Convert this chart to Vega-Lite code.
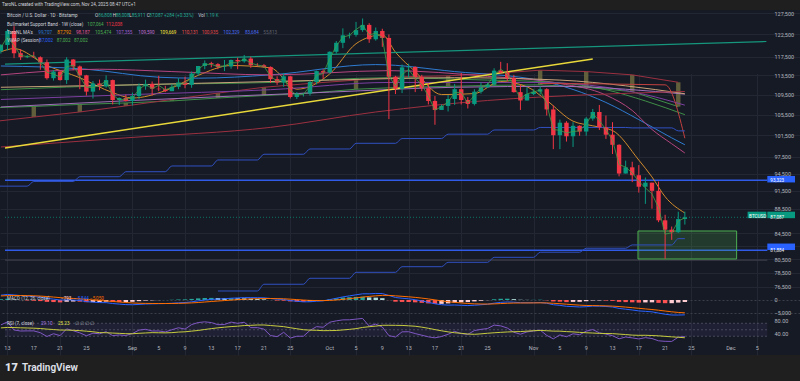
{
"$schema":"https://vega.github.io/schema/vega-lite/v6.json",
"width":800,"height":345,
"autosize":{"type":"none"},
"padding":{"left":0,"top":10,"right":0,"bottom":26},
"background":"#1f1f1f",
"config":{
 "view":{"fill":"#161a25","stroke":null},
 "axis":{"domain":false,"ticks":false,"labelFont":"Roboto","labelFontSize":5.5,"labelColor":"#b2b5be","labelOverlap":false,"labelFlush":false,"gridColor":"#232733","titleFont":"Roboto"},
 "text":{"font":"Roboto","fontSize":4.6,"align":"left","baseline":"middle"}
},
"datasets":{
"candles":[
{"d":"2025-08-12","o":118700,"h":120300,"l":118200,"c":120100,"v":119530,"m":1900,"s":1600,"hs":300,"r":65.0,"rm":55.7},
{"d":"2025-08-13","o":120100,"h":123700,"l":118900,"c":123300,"v":121970,"m":2190,"s":1720,"hs":470,"r":74.1,"rm":57.1},
{"d":"2025-08-14","o":123300,"h":124400,"l":117200,"c":118300,"v":119970,"m":1990,"s":1770,"hs":220,"r":49.3,"rm":56.7},
{"d":"2025-08-15","o":118300,"h":119200,"l":116800,"c":117400,"v":117800,"m":1750,"s":1770,"hs":-20,"r":46.1,"rm":56.0},
{"d":"2025-08-16","o":117400,"h":117900,"l":117200,"c":117500,"v":117530,"m":1540,"s":1720,"hs":-180,"r":46.5,"rm":55.4},
{"d":"2025-08-17","o":117500,"h":118600,"l":117300,"c":117400,"v":117770,"m":1360,"s":1650,"hs":-290,"r":46.5,"rm":54.8},
{"d":"2025-08-18","o":117400,"h":117600,"l":114700,"c":116300,"v":116200,"m":1110,"s":1540,"hs":-430,"r":40.9,"rm":53.8},
{"d":"2025-08-19","o":116300,"h":116900,"l":112600,"c":112900,"v":114130,"m":630,"s":1360,"hs":-730,"r":29.2,"rm":52.0},
{"d":"2025-08-20","o":112900,"h":114600,"l":112400,"c":114300,"v":113770,"m":350,"s":1160,"hs":-810,"r":37.7,"rm":50.7},
{"d":"2025-08-21","o":114300,"h":114500,"l":112400,"c":112500,"v":113130,"m":-10,"s":930,"hs":-940,"r":32.0,"rm":49.1},
{"d":"2025-08-22","o":112500,"h":117400,"l":111700,"c":116900,"v":115330,"m":60,"s":750,"hs":-690,"r":52.7,"rm":48.9},
{"d":"2025-08-23","o":116900,"h":117000,"l":114600,"c":115400,"v":115670,"m":-10,"s":600,"hs":-610,"r":47.0,"rm":48.4},
{"d":"2025-08-24","o":115400,"h":115600,"l":110600,"c":113500,"v":113230,"m":-210,"s":440,"hs":-650,"r":40.5,"rm":47.3},
{"d":"2025-08-25","o":113500,"h":113600,"l":109300,"c":110100,"v":111000,"m":-640,"s":220,"hs":-860,"r":31.5,"rm":45.6},
{"d":"2025-08-26","o":110100,"h":112300,"l":108700,"c":111800,"v":110930,"m":-830,"s":10,"hs":-840,"r":39.4,"rm":43.8},
{"d":"2025-08-27","o":111800,"h":112600,"l":110400,"c":111200,"v":111400,"m":-1020,"s":-200,"hs":-820,"r":37.6,"rm":41.2},
{"d":"2025-08-28","o":111200,"h":113500,"l":110900,"c":112500,"v":112300,"m":-1050,"s":-370,"hs":-680,"r":44.0,"rm":40.8},
{"d":"2025-08-29","o":112500,"h":112600,"l":107500,"c":108400,"v":109500,"m":-1390,"s":-570,"hs":-820,"r":31.9,"rm":39.8},
{"d":"2025-08-30","o":108400,"h":108900,"l":107400,"c":108800,"v":108370,"m":-1610,"s":-780,"hs":-830,"r":34.0,"rm":38.9},
{"d":"2025-08-31","o":108800,"h":109500,"l":108100,"c":108200,"v":108600,"m":-1810,"s":-990,"hs":-820,"r":32.3,"rm":37.9},
{"d":"2025-09-01","o":108200,"h":109900,"l":107300,"c":109200,"v":108800,"m":-1870,"s":-1160,"hs":-710,"r":38.3,"rm":37.7},
{"d":"2025-09-02","o":109200,"h":111800,"l":108600,"c":111200,"v":110530,"m":-1740,"s":-1280,"hs":-460,"r":48.9,"rm":39.1},
{"d":"2025-09-03","o":111200,"h":112600,"l":110500,"c":111700,"v":111600,"m":-1580,"s":-1340,"hs":-240,"r":51.4,"rm":40.1},
{"d":"2025-09-04","o":111700,"h":112200,"l":109300,"c":110700,"v":110730,"m":-1510,"s":-1370,"hs":-140,"r":46.2,"rm":41.1},
{"d":"2025-09-05","o":110700,"h":113400,"l":110200,"c":110600,"v":111400,"m":-1440,"s":-1390,"hs":-50,"r":46.2,"rm":40.7},
{"d":"2025-09-06","o":110600,"h":111300,"l":110000,"c":110200,"v":110500,"m":-1400,"s":-1390,"hs":-10,"r":43.3,"rm":40.4},
{"d":"2025-09-07","o":110200,"h":111600,"l":110200,"c":111100,"v":110970,"m":-1280,"s":-1370,"hs":90,"r":50.0,"rm":41.1},
{"d":"2025-09-08","o":111100,"h":112900,"l":110600,"c":112000,"v":111830,"m":-1110,"s":-1320,"hs":210,"r":56.1,"rm":42.8},
{"d":"2025-09-09","o":112000,"h":113200,"l":110800,"c":111500,"v":111830,"m":-1000,"s":-1250,"hs":250,"r":52.0,"rm":43.7},
{"d":"2025-09-10","o":111500,"h":114300,"l":110900,"c":113900,"v":113030,"m":-720,"s":-1150,"hs":430,"r":65.9,"rm":45.8},
{"d":"2025-09-11","o":113900,"h":115500,"l":113400,"c":115500,"v":114800,"m":-350,"s":-990,"hs":640,"r":72.2,"rm":47.8},
{"d":"2025-09-12","o":115500,"h":116700,"l":114800,"c":116100,"v":115870,"m":-10,"s":-790,"hs":780,"r":74.3,"rm":50.8},
{"d":"2025-09-13","o":116100,"h":116400,"l":115200,"c":115900,"v":115830,"m":230,"s":-590,"hs":820,"r":72.1,"rm":53.5},
{"d":"2025-09-14","o":115900,"h":116100,"l":114800,"c":115300,"v":115400,"m":370,"s":-400,"hs":770,"r":65.6,"rm":55.9},
{"d":"2025-09-15","o":115300,"h":116800,"l":114400,"c":115400,"v":115530,"m":490,"s":-220,"hs":710,"r":66.2,"rm":57.9},
{"d":"2025-09-16","o":115400,"h":116900,"l":114900,"c":116800,"v":116200,"m":690,"s":-40,"hs":730,"r":73.6,"rm":59.7},
{"d":"2025-09-17","o":116800,"h":117300,"l":114800,"c":116500,"v":116200,"m":810,"s":130,"hs":680,"r":69.8,"rm":61.0},
{"d":"2025-09-18","o":116500,"h":117900,"l":116200,"c":117100,"v":117070,"m":950,"s":290,"hs":660,"r":73.1,"rm":62.9},
{"d":"2025-09-19","o":117100,"h":117500,"l":115100,"c":115700,"v":116100,"m":930,"s":420,"hs":510,"r":56.5,"rm":63.6},
{"d":"2025-09-20","o":115700,"h":116100,"l":115400,"c":115650,"v":115720,"m":910,"s":520,"hs":390,"r":56.5,"rm":64.6},
{"d":"2025-09-21","o":115650,"h":115900,"l":115100,"c":115300,"v":115430,"m":850,"s":580,"hs":270,"r":52.0,"rm":64.7},
{"d":"2025-09-22","o":115300,"h":115400,"l":111900,"c":112700,"v":113330,"m":590,"s":580,"hs":10,"r":32.2,"rm":63.0},
{"d":"2025-09-23","o":112700,"h":113300,"l":111500,"c":112000,"v":112270,"m":320,"s":530,"hs":-210,"r":28.7,"rm":61.3},
{"d":"2025-09-24","o":112000,"h":114000,"l":111100,"c":113300,"v":112800,"m":210,"s":470,"hs":-260,"r":42.2,"rm":59.6},
{"d":"2025-09-25","o":113300,"h":113400,"l":108700,"c":109000,"v":110370,"m":-230,"s":330,"hs":-560,"r":24.4,"rm":56.2},
{"d":"2025-09-26","o":109000,"h":110000,"l":108600,"c":109700,"v":109430,"m":-510,"s":160,"hs":-670,"r":30.0,"rm":53.1},
{"d":"2025-09-27","o":109700,"h":109800,"l":109100,"c":109750,"v":109550,"m":-730,"s":-20,"hs":-710,"r":30.0,"rm":50.1},
{"d":"2025-09-28","o":109750,"h":112400,"l":109300,"c":112100,"v":111270,"m":-700,"s":-160,"hs":-540,"r":48.0,"rm":48.8},
{"d":"2025-09-29","o":112100,"h":114500,"l":111600,"c":114400,"v":113500,"m":-480,"s":-220,"hs":-260,"r":59.6,"rm":48.3},
{"d":"2025-09-30","o":114400,"h":114800,"l":112700,"c":114100,"v":113870,"m":-330,"s":-240,"hs":-90,"r":57.6,"rm":47.2},
{"d":"2025-10-01","o":114100,"h":118700,"l":113900,"c":118600,"v":117070,"m":150,"s":-160,"hs":310,"r":73.1,"rm":47.4},
{"d":"2025-10-02","o":118600,"h":121000,"l":118200,"c":120600,"v":119930,"m":680,"s":10,"hs":670,"r":77.4,"rm":47.7},
{"d":"2025-10-03","o":120600,"h":123900,"l":119400,"c":122300,"v":121870,"m":1220,"s":250,"hs":970,"r":80.4,"rm":49.4},
{"d":"2025-10-04","o":122300,"h":122900,"l":121600,"c":122400,"v":122300,"m":1640,"s":530,"hs":1110,"r":80.6,"rm":51.2},
{"d":"2025-10-05","o":122400,"h":125400,"l":122000,"c":123500,"v":123630,"m":2040,"s":830,"hs":1210,"r":82.7,"rm":53.4},
{"d":"2025-10-06","o":123500,"h":126200,"l":123100,"c":124700,"v":124670,"m":2430,"s":1150,"hs":1280,"r":84.8,"rm":57.1},
{"d":"2025-10-07","o":124700,"h":125100,"l":120600,"c":121400,"v":122370,"m":2440,"s":1410,"hs":1030,"r":61.3,"rm":59.4},
{"d":"2025-10-08","o":121400,"h":124100,"l":121100,"c":123300,"v":122830,"m":2580,"s":1640,"hs":940,"r":67.4,"rm":61.2},
{"d":"2025-10-09","o":123300,"h":123800,"l":119700,"c":121700,"v":121730,"m":2530,"s":1820,"hs":710,"r":58.4,"rm":63.7},
{"d":"2025-10-10","o":121700,"h":122500,"l":104600,"c":113200,"v":113430,"m":1780,"s":1810,"hs":-30,"r":31.9,"rm":63.8},
{"d":"2025-10-11","o":113200,"h":113400,"l":109600,"c":110700,"v":111230,"m":980,"s":1640,"hs":-660,"r":27.6,"rm":63.6},
{"d":"2025-10-12","o":110700,"h":115800,"l":109800,"c":115200,"v":113600,"m":690,"s":1450,"hs":-760,"r":43.6,"rm":63.3},
{"d":"2025-10-13","o":115200,"h":116000,"l":113000,"c":115300,"v":114770,"m":470,"s":1260,"hs":-790,"r":43.9,"rm":62.2},
{"d":"2025-10-14","o":115300,"h":115400,"l":110000,"c":113100,"v":112830,"m":110,"s":1030,"hs":-920,"r":38.3,"rm":60.8},
{"d":"2025-10-15","o":113100,"h":113600,"l":110200,"c":110800,"v":111530,"m":-360,"s":750,"hs":-1110,"r":33.2,"rm":58.0},
{"d":"2025-10-16","o":110800,"h":111800,"l":107500,"c":108200,"v":109170,"m":-920,"s":420,"hs":-1340,"r":28.2,"rm":54.5},
{"d":"2025-10-17","o":108200,"h":109200,"l":103500,"c":106400,"v":106370,"m":-1490,"s":40,"hs":-1530,"r":25.1,"rm":50.5},
{"d":"2025-10-18","o":106400,"h":107500,"l":106400,"c":107200,"v":107030,"m":-1860,"s":-340,"hs":-1520,"r":29.1,"rm":46.8},
{"d":"2025-10-19","o":107200,"h":109400,"l":106100,"c":108600,"v":108030,"m":-2020,"s":-680,"hs":-1340,"r":36.1,"rm":43.5},
{"d":"2025-10-20","o":108600,"h":111700,"l":107400,"c":110600,"v":109900,"m":-1970,"s":-930,"hs":-1040,"r":45.0,"rm":40.7},
{"d":"2025-10-21","o":110600,"h":114000,"l":107500,"c":108400,"v":109970,"m":-2080,"s":-1160,"hs":-920,"r":38.2,"rm":39.0},
{"d":"2025-10-22","o":108400,"h":109000,"l":106700,"c":107600,"v":107770,"m":-2200,"s":-1370,"hs":-830,"r":35.9,"rm":36.8},
{"d":"2025-10-23","o":107600,"h":110600,"l":107300,"c":110100,"v":109330,"m":-2070,"s":-1510,"hs":-560,"r":47.5,"rm":36.0},
{"d":"2025-10-24","o":110100,"h":112000,"l":109700,"c":111000,"v":110900,"m":-1880,"s":-1580,"hs":-300,"r":51.2,"rm":37.4},
{"d":"2025-10-25","o":111000,"h":111900,"l":110900,"c":111600,"v":111470,"m":-1660,"s":-1600,"hs":-60,"r":53.8,"rm":39.2},
{"d":"2025-10-26","o":111600,"h":115000,"l":111300,"c":114500,"v":113600,"m":-1240,"s":-1530,"hs":290,"r":64.3,"rm":40.7},
{"d":"2025-10-27","o":114500,"h":116400,"l":113900,"c":114100,"v":114800,"m":-930,"s":-1410,"hs":480,"r":62.0,"rm":42.0},
{"d":"2025-10-28","o":114100,"h":116100,"l":112300,"c":112900,"v":113770,"m":-770,"s":-1280,"hs":510,"r":55.3,"rm":43.2},
{"d":"2025-10-29","o":112900,"h":113600,"l":109900,"c":110000,"v":111170,"m":-860,"s":-1200,"hs":340,"r":42.2,"rm":43.9},
{"d":"2025-10-30","o":110000,"h":111500,"l":106400,"c":108300,"v":108730,"m":-1060,"s":-1170,"hs":110,"r":36.3,"rm":44.4},
{"d":"2025-10-31","o":108300,"h":111000,"l":108300,"c":109600,"v":109630,"m":-1100,"s":-1160,"hs":60,"r":43.4,"rm":45.7},
{"d":"2025-11-01","o":109600,"h":110600,"l":109400,"c":110100,"v":110030,"m":-1080,"s":-1140,"hs":60,"r":46.1,"rm":47.0},
{"d":"2025-11-02","o":110100,"h":111200,"l":109500,"c":110600,"v":110430,"m":-1010,"s":-1120,"hs":110,"r":48.9,"rm":47.9},
{"d":"2025-11-03","o":110600,"h":110800,"l":105300,"c":106500,"v":107530,"m":-1270,"s":-1150,"hs":-120,"r":32.6,"rm":47.0},
{"d":"2025-11-04","o":106500,"h":107300,"l":98900,"c":101500,"v":102570,"m":-1860,"s":-1290,"hs":-570,"r":22.1,"rm":45.8},
{"d":"2025-11-05","o":101500,"h":104500,"l":98900,"c":103900,"v":102430,"m":-2110,"s":-1450,"hs":-660,"r":34.0,"rm":45.7},
{"d":"2025-11-06","o":103900,"h":104200,"l":100300,"c":101300,"v":101930,"m":-2490,"s":-1660,"hs":-830,"r":28.5,"rm":44.3},
{"d":"2025-11-07","o":101300,"h":104000,"l":99300,"c":103300,"v":102200,"m":-2600,"s":-1850,"hs":-750,"r":37.6,"rm":43.4},
{"d":"2025-11-08","o":103300,"h":103400,"l":101400,"c":102200,"v":102330,"m":-2750,"s":-2030,"hs":-720,"r":34.8,"rm":42.0},
{"d":"2025-11-09","o":102200,"h":105000,"l":101400,"c":104700,"v":103700,"m":-2630,"s":-2150,"hs":-480,"r":45.6,"rm":40.7},
{"d":"2025-11-10","o":104700,"h":106600,"l":104300,"c":106000,"v":105630,"m":-2400,"s":-2200,"hs":-200,"r":50.6,"rm":39.9},
{"d":"2025-11-11","o":106000,"h":107400,"l":102500,"c":103000,"v":104300,"m":-2440,"s":-2250,"hs":-190,"r":40.6,"rm":38.8},
{"d":"2025-11-12","o":103000,"h":105300,"l":100800,"c":101600,"v":102570,"m":-2550,"s":-2310,"hs":-240,"r":36.6,"rm":38.4},
{"d":"2025-11-13","o":101600,"h":104000,"l":98000,"c":99700,"v":100570,"m":-2760,"s":-2400,"hs":-360,"r":31.7,"rm":38.1},
{"d":"2025-11-14","o":99700,"h":99800,"l":94000,"c":94500,"v":96100,"m":-3310,"s":-2580,"hs":-730,"r":22.2,"rm":36.6},
{"d":"2025-11-15","o":94500,"h":96800,"l":94500,"c":95600,"v":95630,"m":-3620,"s":-2790,"hs":-830,"r":27.6,"rm":35.2},
{"d":"2025-11-16","o":95600,"h":96600,"l":93000,"c":94200,"v":94600,"m":-3930,"s":-3020,"hs":-910,"r":25.0,"rm":33.5},
{"d":"2025-11-17","o":94200,"h":96000,"l":91200,"c":92200,"v":93130,"m":-4290,"s":-3270,"hs":-1020,"r":21.7,"rm":32.8},
{"d":"2025-11-18","o":92200,"h":93800,"l":89300,"c":92900,"v":92000,"m":-4470,"s":-3510,"hs":-960,"r":25.7,"rm":33.0},
{"d":"2025-11-19","o":92900,"h":92900,"l":88500,"c":91500,"v":90970,"m":-4660,"s":-3740,"hs":-920,"r":23.0,"rm":32.2},
{"d":"2025-11-20","o":91500,"h":93100,"l":86300,"c":86600,"v":88670,"m":-5150,"s":-4020,"hs":-1130,"r":16.0,"rm":31.3},
{"d":"2025-11-21","o":86600,"h":87500,"l":80600,"c":85100,"v":84400,"m":-5600,"s":-4340,"hs":-1260,"r":14.4,"rm":29.7},
{"d":"2025-11-22","o":85100,"h":85600,"l":83500,"c":84700,"v":84600,"m":-5910,"s":-4650,"hs":-1260,"r":14.0,"rm":28.2},
{"d":"2025-11-23","o":84700,"h":88000,"l":84600,"c":86800,"v":86470,"m":-5920,"s":-4900,"hs":-1020,"r":27.2,"rm":26.9},
{"d":"2025-11-24","o":86808,"h":88008,"l":85911,"c":87087,"v":87002,"m":-5844,"s":-5050,"hs":-794,"r":29.1,"rm":25.3}
],
"band":[
{"d":"2025-08-10","g":106800,"r":104000},{"d":"2025-08-17","g":107100,"r":105000},{"d":"2025-08-24","g":107500,"r":106000},{"d":"2025-08-31","g":107800,"r":107200},{"d":"2025-09-07","g":108200,"r":108500},{"d":"2025-09-14","g":108800,"r":109800},{"d":"2025-09-21","g":109300,"r":111000},{"d":"2025-09-28","g":109800,"r":111800},{"d":"2025-10-05","g":110600,"r":112500},{"d":"2025-10-12","g":111000,"r":113200},{"d":"2025-10-19","g":111200,"r":113400},{"d":"2025-10-26","g":111400,"r":113900},{"d":"2025-11-02","g":111500,"r":114600},{"d":"2025-11-09","g":111000,"r":114300},{"d":"2025-11-16","g":110100,"r":113600},{"d":"2025-11-23","g":107064,"r":112038}
],
"ma":[
{"d":"2025-08-12","p":118600,"k":"ema"},{"d":"2025-08-14","p":119300,"k":"ema"},{"d":"2025-08-19","p":115600,"k":"ema"},{"d":"2025-08-24","p":113000,"k":"ema"},{"d":"2025-08-29","p":109900,"k":"ema"},{"d":"2025-09-01","p":108800,"k":"ema"},{"d":"2025-09-06","p":110300,"k":"ema"},{"d":"2025-09-11","p":113500,"k":"ema"},{"d":"2025-09-16","p":115600,"k":"ema"},{"d":"2025-09-22","p":115100,"k":"ema"},{"d":"2025-09-26","p":110600,"k":"ema"},{"d":"2025-10-01","p":113800,"k":"ema"},{"d":"2025-10-05","p":120400,"k":"ema"},{"d":"2025-10-07","p":121900,"k":"ema"},{"d":"2025-10-09","p":122400,"k":"ema"},{"d":"2025-10-11","p":118500,"k":"ema"},{"d":"2025-10-14","p":114300,"k":"ema"},{"d":"2025-10-18","p":109500,"k":"ema"},{"d":"2025-10-23","p":109700,"k":"ema"},{"d":"2025-10-27","p":112200,"k":"ema"},{"d":"2025-10-31","p":111100,"k":"ema"},{"d":"2025-11-03","p":108300,"k":"ema"},{"d":"2025-11-07","p":104200,"k":"ema"},{"d":"2025-11-10","p":103300,"k":"ema"},{"d":"2025-11-13","p":102400,"k":"ema"},{"d":"2025-11-17","p":96900,"k":"ema"},{"d":"2025-11-19","p":93900,"k":"ema"},{"d":"2025-11-21","p":90500,"k":"ema"},{"d":"2025-11-24","p":87792,"k":"ema"},
{"d":"2025-08-12","p":115500,"k":"ma50"},{"d":"2025-08-25","p":114800,"k":"ma50"},{"d":"2025-09-05","p":113100,"k":"ma50"},{"d":"2025-09-11","p":112900,"k":"ma50"},{"d":"2025-09-22","p":113600,"k":"ma50"},{"d":"2025-10-08","p":115800,"k":"ma50"},{"d":"2025-10-20","p":114300,"k":"ma50"},{"d":"2025-11-02","p":112400,"k":"ma50"},{"d":"2025-11-12","p":107900,"k":"ma50"},{"d":"2025-11-17","p":104500,"k":"ma50"},{"d":"2025-11-22","p":101000,"k":"ma50"},{"d":"2025-11-24","p":99707,"k":"ma50"},
{"d":"2025-08-12","p":113600,"k":"pink"},{"d":"2025-08-27","p":114800,"k":"pink"},{"d":"2025-09-07","p":114300,"k":"pink"},{"d":"2025-09-22","p":113600,"k":"pink"},{"d":"2025-10-10","p":114500,"k":"pink"},{"d":"2025-10-25","p":113300,"k":"pink"},{"d":"2025-11-05","p":111800,"k":"pink"},{"d":"2025-11-12","p":109400,"k":"pink"},{"d":"2025-11-16","p":106300,"k":"pink"},{"d":"2025-11-19","p":102600,"k":"pink"},{"d":"2025-11-22","p":99900,"k":"pink"},{"d":"2025-11-24","p":98187,"k":"pink"},
{"d":"2025-08-12","p":110500,"k":"green"},{"d":"2025-09-01","p":111500,"k":"green"},{"d":"2025-09-22","p":112000,"k":"green"},{"d":"2025-10-10","p":113000,"k":"green"},{"d":"2025-10-25","p":112500,"k":"green"},{"d":"2025-11-02","p":112200,"k":"green"},{"d":"2025-11-12","p":110500,"k":"green"},{"d":"2025-11-18","p":108200,"k":"green"},{"d":"2025-11-24","p":105474,"k":"green"},
{"d":"2025-08-12","p":108500,"k":"purple"},{"d":"2025-09-01","p":109500,"k":"purple"},{"d":"2025-09-22","p":110500,"k":"purple"},{"d":"2025-10-10","p":112000,"k":"purple"},{"d":"2025-11-02","p":112000,"k":"purple"},{"d":"2025-11-12","p":111000,"k":"purple"},{"d":"2025-11-18","p":109500,"k":"purple"},{"d":"2025-11-24","p":107355,"k":"purple"},
{"d":"2025-08-12","p":107000,"k":"lav"},{"d":"2025-09-01","p":108300,"k":"lav"},{"d":"2025-10-01","p":110000,"k":"lav"},{"d":"2025-10-20","p":111000,"k":"lav"},{"d":"2025-11-05","p":111200,"k":"lav"},{"d":"2025-11-15","p":110600,"k":"lav"},{"d":"2025-11-24","p":109590,"k":"lav"},
{"d":"2025-08-12","p":111000,"k":"tan"},{"d":"2025-09-01","p":111500,"k":"tan"},{"d":"2025-10-01","p":112500,"k":"tan"},{"d":"2025-10-20","p":113000,"k":"tan"},{"d":"2025-11-05","p":112500,"k":"tan"},{"d":"2025-11-15","p":111300,"k":"tan"},{"d":"2025-11-24","p":109669,"k":"tan"},
{"d":"2025-08-12","p":99300,"k":"sma200"},{"d":"2025-08-31","p":101000,"k":"sma200"},{"d":"2025-09-22","p":103000,"k":"sma200"},{"d":"2025-10-08","p":106000,"k":"sma200"},{"d":"2025-10-25","p":108300,"k":"sma200"},{"d":"2025-11-10","p":109500,"k":"sma200"},{"d":"2025-11-24","p":110131,"k":"sma200"},
{"d":"2025-11-02","p":111800,"k":"w50"},{"d":"2025-11-21","p":111500,"k":"w50"},{"d":"2025-11-24","p":100935,"k":"w50"},
{"d":"2025-08-10","p":92300,"k":"stepA"},{"d":"2025-08-16","p":92300,"k":"stepA"},{"d":"2025-08-17","p":93100,"k":"stepA"},{"d":"2025-08-23","p":93100,"k":"stepA"},{"d":"2025-08-24","p":93940,"k":"stepA"},{"d":"2025-08-30","p":93940,"k":"stepA"},{"d":"2025-08-31","p":94820,"k":"stepA"},{"d":"2025-09-06","p":94820,"k":"stepA"},{"d":"2025-09-07","p":95840,"k":"stepA"},{"d":"2025-09-13","p":95840,"k":"stepA"},{"d":"2025-09-14","p":96920,"k":"stepA"},{"d":"2025-09-20","p":96920,"k":"stepA"},{"d":"2025-09-21","p":97960,"k":"stepA"},{"d":"2025-09-27","p":97960,"k":"stepA"},{"d":"2025-09-28","p":98930,"k":"stepA"},{"d":"2025-10-04","p":98930,"k":"stepA"},{"d":"2025-10-05","p":99980,"k":"stepA"},{"d":"2025-10-11","p":99980,"k":"stepA"},{"d":"2025-10-12","p":100870,"k":"stepA"},{"d":"2025-10-18","p":100870,"k":"stepA"},{"d":"2025-10-19","p":101700,"k":"stepA"},{"d":"2025-10-25","p":101700,"k":"stepA"},{"d":"2025-10-26","p":102500,"k":"stepA"},{"d":"2025-11-01","p":102500,"k":"stepA"},{"d":"2025-11-02","p":102980,"k":"stepA"},{"d":"2025-11-15","p":102980,"k":"stepA"},{"d":"2025-11-16","p":102900,"k":"stepA"},{"d":"2025-11-22","p":102900,"k":"stepA"},{"d":"2025-11-23","p":102329,"k":"stepA"},{"d":"2025-11-24","p":102329,"k":"stepA"},
{"d":"2025-09-14","p":75900,"k":"stepB"},{"d":"2025-09-20","p":75900,"k":"stepB"},{"d":"2025-09-21","p":76860,"k":"stepB"},{"d":"2025-09-27","p":76860,"k":"stepB"},{"d":"2025-09-28","p":77720,"k":"stepB"},{"d":"2025-10-04","p":77720,"k":"stepB"},{"d":"2025-10-05","p":78590,"k":"stepB"},{"d":"2025-10-11","p":78590,"k":"stepB"},{"d":"2025-10-12","p":79420,"k":"stepB"},{"d":"2025-10-18","p":79420,"k":"stepB"},{"d":"2025-10-19","p":80070,"k":"stepB"},{"d":"2025-10-25","p":80070,"k":"stepB"},{"d":"2025-10-26","p":80820,"k":"stepB"},{"d":"2025-11-01","p":80820,"k":"stepB"},{"d":"2025-11-02","p":81590,"k":"stepB"},{"d":"2025-11-08","p":81590,"k":"stepB"},{"d":"2025-11-09","p":82200,"k":"stepB"},{"d":"2025-11-15","p":82200,"k":"stepB"},{"d":"2025-11-16","p":82710,"k":"stepB"},{"d":"2025-11-22","p":82710,"k":"stepB"},{"d":"2025-11-23","p":83684,"k":"stepB"},{"d":"2025-11-24","p":83684,"k":"stepB"}
],
"trend":[
{"d":"2025-08-12T15:00:00Z","p":115920,"k":"teal"},{"d":"2025-12-06T09:30:00Z","p":120900,"k":"teal"},
{"d":"2025-08-12T15:00:00Z","p":99120,"k":"yellow"},{"d":"2025-11-10T00:00:00Z","p":117020,"k":"yellow"}
],
"dates":[
{"d":"2025-08-13","t":"13"},{"d":"2025-08-17","t":"17"},{"d":"2025-08-21","t":"21"},{"d":"2025-08-25","t":"25"},{"d":"2025-09-01","t":"Sep"},{"d":"2025-09-05","t":"5"},{"d":"2025-09-09","t":"9"},{"d":"2025-09-13","t":"13"},{"d":"2025-09-17","t":"17"},{"d":"2025-09-21","t":"21"},{"d":"2025-09-25","t":"25"},{"d":"2025-10-01","t":"Oct"},{"d":"2025-10-05","t":"5"},{"d":"2025-10-09","t":"9"},{"d":"2025-10-13","t":"13"},{"d":"2025-10-17","t":"17"},{"d":"2025-10-21","t":"21"},{"d":"2025-10-25","t":"25"},{"d":"2025-11-01","t":"Nov"},{"d":"2025-11-05","t":"5"},{"d":"2025-11-09","t":"9"},{"d":"2025-11-13","t":"13"},{"d":"2025-11-17","t":"17"},{"d":"2025-11-21","t":"21"},{"d":"2025-11-25","t":"25"},{"d":"2025-12-01","t":"Dec"},{"d":"2025-12-05","t":"5"}
]
},
"layer":[
 {"data":{"values":[{"p":93323,"k":"b"},{"p":81884,"k":"b"},{"p":80400,"k":"g"}]},
  "mark":{"type":"rule"},
  "encoding":{
   "x":{"datum":1755010800000,"type":"temporal","scale":{"type":"utc","domain":[1755010800000,1765389600000]}},
   "x2":{"datum":1765026000000},
   "y":{"field":"p","type":"quantitative","scale":{"type":"log","domain":[75828,128216],"range":[281.5,0],"nice":false},"axis":null},
   "color":{"condition":{"test":"datum.k=='g'","value":"#434651"},"value":"#2f5be8"},
   "strokeWidth":{"condition":{"test":"datum.k=='g'","value":1},"value":1.6}}},
 {"data":{"values":[{"p":87087}]},
  "mark":{"type":"rule","strokeDash":[1,2],"color":"#089981","opacity":0.7},
  "encoding":{
   "x":{"datum":1755010800000,"type":"temporal","scale":{"type":"utc","domain":[1755010800000,1765389600000]}},
   "x2":{"datum":1765026000000},
   "y":{"field":"p","type":"quantitative","scale":{"type":"log","domain":[75828,128216],"range":[281.5,0],"nice":false},"axis":null}}},
 {"data":{"values":[{"p1":84890,"p2":80570}]},
  "mark":{"type":"rect","fill":"#4caf50","fillOpacity":0.22,"stroke":"#4caf50","strokeWidth":1},
  "encoding":{
   "x":{"datum":1763326800000,"type":"temporal","scale":{"type":"utc","domain":[1755010800000,1765389600000]}},
   "x2":{"datum":1764622800000},
   "y":{"field":"p1","type":"quantitative","scale":{"type":"log","domain":[75828,128216],"range":[281.5,0],"nice":false},"axis":null},
   "y2":{"field":"p2"}}},
 {"data":{"name":"band"},
  "mark":{"type":"bar","width":4.4,"color":"#6e6b3f","opacity":0.85},
  "encoding":{
   "x":{"field":"d","type":"temporal","scale":{"type":"utc","domain":[1755010800000,1765389600000]}},
   "y":{"field":"g","type":"quantitative","scale":{"type":"log","domain":[75828,128216],"range":[281.5,0],"nice":false},"axis":null},
   "y2":{"field":"r"}}},
 {"data":{"name":"band"},
  "mark":{"type":"line","strokeWidth":1,"color":"#3e8e47"},
  "encoding":{
   "x":{"field":"d","type":"temporal","scale":{"type":"utc","domain":[1755010800000,1765389600000]}},
   "y":{"field":"g","type":"quantitative","scale":{"type":"log","domain":[75828,128216],"range":[281.5,0],"nice":false},"axis":null}}},
 {"data":{"name":"band"},
  "mark":{"type":"line","strokeWidth":1,"color":"#9b3040"},
  "encoding":{
   "x":{"field":"d","type":"temporal","scale":{"type":"utc","domain":[1755010800000,1765389600000]}},
   "y":{"field":"r","type":"quantitative","scale":{"type":"log","domain":[75828,128216],"range":[281.5,0],"nice":false},"axis":null}}},
 {"data":{"name":"ma"},
  "mark":{"type":"line","strokeWidth":1,"interpolate":"monotone"},
  "encoding":{
   "x":{"field":"d","type":"temporal","scale":{"type":"utc","domain":[1755010800000,1765389600000]}},
   "y":{"field":"p","type":"quantitative","scale":{"type":"log","domain":[75828,128216],"range":[281.5,0],"nice":false},"axis":null},
   "color":{"field":"k","type":"nominal","scale":{"domain":["ema","ma50","pink","green","purple","lav","tan","sma200","w50","stepA","stepB"],"range":["#d08a2c","#2e7bd1","#b4457f","#3f8f46","#7b3fa0","#a070b8","#c9a27a","#9c3040","#c2413f","#3050c0","#3050c0"]},"legend":null}}},
 {"data":{"name":"trend"},
  "mark":{"type":"line"},
  "encoding":{
   "x":{"field":"d","type":"temporal","scale":{"type":"utc","domain":[1755010800000,1765389600000]}},
   "y":{"field":"p","type":"quantitative","scale":{"type":"log","domain":[75828,128216],"range":[281.5,0],"nice":false},"axis":null},
   "detail":{"field":"k"},
   "color":{"condition":{"test":"datum.k=='teal'","value":"#15967d"},"value":"#e8d83a"},
   "strokeWidth":{"condition":{"test":"datum.k=='teal'","value":1.2},"value":1.5}}},
 {"data":{"name":"candles"},
  "mark":{"type":"rule","strokeWidth":1},
  "encoding":{
   "x":{"field":"d","type":"temporal","scale":{"type":"utc","domain":[1755010800000,1765389600000]},
    "axis":{"orient":"bottom","offset":-15,"values":[1755043200000,1755388800000,1755734400000,1756080000000,1756684800000,1757030400000,1757376000000,1757721600000,1758067200000,1758412800000,1758758400000,1759276800000,1759622400000,1759968000000,1760313600000,1760659200000,1761004800000,1761350400000,1761955200000,1762300800000,1762646400000,1762992000000,1763337600000,1763683200000,1764028800000,1764547200000,1764892800000],
     "labels":false,"grid":true,"title":null}},
   "y":{"field":"l","type":"quantitative","scale":{"type":"log","domain":[75828,128216],"range":[281.5,0],"nice":false},
     "axis":{"orient":"right","offset":-28,"values":[127500,122500,117500,113500,109500,105500,101500,97500,94500,91500,88500,84500,82500,80500,78500,76500],"format":",","labelAlign":"left","labelPadding":2,"labelOverlap":false,"grid":true,"title":null}},
   "y2":{"field":"h"},
   "color":{"condition":{"test":"datum.c >= datum.o","value":"#089981"},"value":"#f23645"}}},
 {"data":{"name":"candles"},
  "mark":{"type":"bar","width":4.4},
  "encoding":{
   "x":{"field":"d","type":"temporal","scale":{"type":"utc","domain":[1755010800000,1765389600000]}},
   "y":{"field":"o","type":"quantitative","scale":{"type":"log","domain":[75828,128216],"range":[281.5,0],"nice":false},"axis":null},
   "y2":{"field":"c"},
   "color":{"condition":{"test":"datum.c >= datum.o","value":"#089981"},"value":"#f23645"}}},
 {"data":{"name":"candles"},
  "mark":{"type":"line","strokeWidth":0.8,"color":"#43a047"},
  "encoding":{
   "x":{"field":"d","type":"temporal","scale":{"type":"utc","domain":[1755010800000,1765389600000]}},
   "y":{"field":"v","type":"quantitative","scale":{"type":"log","domain":[75828,128216],"range":[281.5,0],"nice":false},"axis":null}}},
 {"data":{"name":"dates"},
  "mark":{"type":"text","align":"center","fontSize":5.5,"color":"#b2b5be"},
  "encoding":{
   "x":{"field":"d","type":"temporal","scale":{"type":"utc","domain":[1755010800000,1765389600000]}},
   "y":{"value":337.5},
   "text":{"field":"t"}}},
 {"data":{"values":[{"p":93323,"k":"b"},{"p":81884,"k":"b"},{"p":87087,"k":"g"}]},
  "mark":{"type":"bar","size":6.5},
  "encoding":{
   "x":{"datum":1765026000000,"type":"temporal","scale":{"type":"utc","domain":[1755010800000,1765389600000]}},
   "x2":{"datum":1765389600000},
   "y":{"field":"p","type":"quantitative","scale":{"type":"log","domain":[75828,128216],"range":[281.5,0],"nice":false},"axis":null},
   "color":{"condition":{"test":"datum.k=='g'","value":"#089981"},"value":"#2962ff"}}},
 {"data":{"values":[{"p":93323,"t":"93,323"},{"p":81884,"t":"81,884"},{"p":87087,"t":"87,087"}]},
  "mark":{"type":"text","dx":3,"dy":1,"color":"#ffffff","fontSize":4.6},
  "encoding":{
   "x":{"datum":1765026000000,"type":"temporal","scale":{"type":"utc","domain":[1755010800000,1765389600000]}},
   "y":{"field":"p","type":"quantitative","scale":{"type":"log","domain":[75828,128216],"range":[281.5,0],"nice":false},"axis":null},
   "text":{"field":"t"}}},
 {"data":{"values":[{"p":87087}]},
  "mark":{"type":"bar","size":6.5,"color":"#089981"},
  "encoding":{
   "x":{"datum":1764766800000,"type":"temporal","scale":{"type":"utc","domain":[1755010800000,1765389600000]}},
   "x2":{"datum":1765013400000},
   "y":{"field":"p","type":"quantitative","scale":{"type":"log","domain":[75828,128216],"range":[281.5,0],"nice":false},"axis":null}}},
 {"data":{"values":[{"p":87087}]},
  "mark":{"type":"text","text":"BTCUSD","dx":1.5,"color":"#ffffff"},
  "encoding":{
   "x":{"datum":1764766800000,"type":"temporal","scale":{"type":"utc","domain":[1755010800000,1765389600000]}},
   "y":{"field":"p","type":"quantitative","scale":{"type":"log","domain":[75828,128216],"range":[281.5,0],"nice":false},"axis":null}}},
 {"data":{"name":"candles"},
  "transform":[{"window":[{"op":"lag","field":"hs","as":"ph"}],"sort":[{"field":"d"}]}],
  "mark":{"type":"bar","width":4.4},
  "encoding":{
   "x":{"field":"d","type":"temporal","scale":{"type":"utc","domain":[1755010800000,1765389600000]}},
   "y":{"field":"hs","type":"quantitative","scale":{"domain":[-6102,3346],"range":[305.5,281.5],"nice":false,"zero":false},
     "axis":{"orient":"right","offset":-28,"values":[0,-5000],"format":",.0f","labelAlign":"left","labelPadding":2,"grid":true,"gridDash":[2,2],"gridColor":"#3a3e4a","title":null}},
   "y2":{"datum":0},
   "color":{"condition":[{"test":"datum.hs >= 0 && datum.hs >= datum.ph","value":"#26a69a"},{"test":"datum.hs >= 0","value":"#b2dfdb"},{"test":"datum.hs < datum.ph","value":"#ff5252"}],"value":"#ffcdd2"}}},
 {"data":{"name":"candles"},
  "mark":{"type":"line","strokeWidth":1,"color":"#2962ff"},
  "encoding":{
   "x":{"field":"d","type":"temporal","scale":{"type":"utc","domain":[1755010800000,1765389600000]}},
   "y":{"field":"m","type":"quantitative","scale":{"domain":[-6102,3346],"range":[305.5,281.5],"nice":false,"zero":false},"axis":null}}},
 {"data":{"name":"candles"},
  "mark":{"type":"line","strokeWidth":1,"color":"#ff6d00"},
  "encoding":{
   "x":{"field":"d","type":"temporal","scale":{"type":"utc","domain":[1755010800000,1765389600000]}},
   "y":{"field":"s","type":"quantitative","scale":{"domain":[-6102,3346],"range":[305.5,281.5],"nice":false,"zero":false},"axis":null}}},
 {"data":{"values":[{"lo":70,"hi":30}]},
  "mark":{"type":"rect","fill":"#7e57c2","opacity":0.1},
  "encoding":{
   "x":{"datum":1755010800000,"type":"temporal","scale":{"type":"utc","domain":[1755010800000,1765389600000]}},
   "x2":{"datum":1765026000000},
   "y":{"field":"lo","type":"quantitative","scale":{"domain":[20,93.85],"range":[329.5,305.5],"nice":false,"zero":false},
     "axis":{"orient":"right","offset":-28,"values":[80,40],"format":".2f","labelAlign":"left","labelPadding":2,"grid":false,"title":null}},
   "y2":{"field":"hi"}}},
 {"data":{"values":[{"lv":70},{"lv":50},{"lv":30}]},
  "mark":{"type":"rule","strokeDash":[2,2],"color":"#787b86","opacity":0.6,"strokeWidth":0.8},
  "encoding":{
   "x":{"datum":1755010800000,"type":"temporal","scale":{"type":"utc","domain":[1755010800000,1765389600000]}},
   "x2":{"datum":1765026000000},
   "y":{"field":"lv","type":"quantitative","scale":{"domain":[20,93.85],"range":[329.5,305.5],"nice":false,"zero":false},"axis":null}}},
 {"data":{"name":"candles"},
  "mark":{"type":"line","strokeWidth":1,"color":"#7e57c2"},
  "encoding":{
   "x":{"field":"d","type":"temporal","scale":{"type":"utc","domain":[1755010800000,1765389600000]}},
   "y":{"field":"r","type":"quantitative","scale":{"domain":[20,93.85],"range":[329.5,305.5],"nice":false,"zero":false},"axis":null}}},
 {"data":{"name":"candles"},
  "mark":{"type":"line","strokeWidth":1,"color":"#c6cc3f"},
  "encoding":{
   "x":{"field":"d","type":"temporal","scale":{"type":"utc","domain":[1755010800000,1765389600000]}},
   "y":{"field":"rm","type":"quantitative","scale":{"domain":[20,93.85],"range":[329.5,305.5],"nice":false,"zero":false},"axis":null}}},
 {"data":{"values":[{}]},"mark":{"type":"text","text":"TaroNL created with TradingView.com, Nov 24, 2025 08:47 UTC+1","color":"#d1d4dc"},"encoding":{"x":{"value":2},"y":{"value":-5}}},
 {"data":{"values":[{}]},"mark":{"type":"text","text":"17","color":"#e0e3eb","fontSize":11,"fontWeight":900},"encoding":{"x":{"value":5},"y":{"value":358}}},
 {"data":{"values":[{}]},"mark":{"type":"text","text":"TradingView","color":"#e0e3eb","fontSize":10,"fontWeight":600},"encoding":{"x":{"value":22},"y":{"value":358}}},
 {"data":{"values":[{}]},"mark":{"type":"text","text":"Bitcoin / U.S. Dollar · 1D · Bitstamp","color":"#d1d4dc"},"encoding":{"x":{"value":7},"y":{"value":6}}},
 {"data":{"values":[{}]},"mark":{"type":"text","text":"O","color":"#d1d4dc"},"encoding":{"x":{"value":95},"y":{"value":6}}},
 {"data":{"values":[{}]},"mark":{"type":"text","text":"86,808","color":"#22ab94"},"encoding":{"x":{"value":98.3},"y":{"value":6}}},
 {"data":{"values":[{}]},"mark":{"type":"text","text":"H","color":"#d1d4dc"},"encoding":{"x":{"value":112.7},"y":{"value":6}}},
 {"data":{"values":[{}]},"mark":{"type":"text","text":"88,008","color":"#22ab94"},"encoding":{"x":{"value":115.7},"y":{"value":6}}},
 {"data":{"values":[{}]},"mark":{"type":"text","text":"L","color":"#d1d4dc"},"encoding":{"x":{"value":129.3},"y":{"value":6}}},
 {"data":{"values":[{}]},"mark":{"type":"text","text":"85,911","color":"#22ab94"},"encoding":{"x":{"value":131.7},"y":{"value":6}}},
 {"data":{"values":[{}]},"mark":{"type":"text","text":"C","color":"#d1d4dc"},"encoding":{"x":{"value":146.7},"y":{"value":6}}},
 {"data":{"values":[{}]},"mark":{"type":"text","text":"87,087","color":"#22ab94"},"encoding":{"x":{"value":149.3},"y":{"value":6}}},
 {"data":{"values":[{}]},"mark":{"type":"text","text":"+284 (+0.33%)","color":"#22ab94"},"encoding":{"x":{"value":164},"y":{"value":6}}},
 {"data":{"values":[{}]},"mark":{"type":"text","text":"Vol","color":"#d1d4dc"},"encoding":{"x":{"value":198.3},"y":{"value":6}}},
 {"data":{"values":[{}]},"mark":{"type":"text","text":"1.19 K","color":"#22ab94"},"encoding":{"x":{"value":205.7},"y":{"value":6}}},
 {"data":{"values":[{}]},"mark":{"type":"text","text":"Bullmarket Support Band · 1W (close)","color":"#d1d4dc"},"encoding":{"x":{"value":7},"y":{"value":15}}},
 {"data":{"values":[{}]},"mark":{"type":"text","text":"107,064","color":"#4caf50"},"encoding":{"x":{"value":87.3},"y":{"value":15}}},
 {"data":{"values":[{}]},"mark":{"type":"text","text":"112,038","color":"#f23645"},"encoding":{"x":{"value":106},"y":{"value":15}}},
 {"data":{"values":[{}]},"mark":{"type":"text","text":"TaroNL MA's","color":"#d1d4dc"},"encoding":{"x":{"value":7},"y":{"value":23}}},
 {"data":{"values":[{}]},"mark":{"type":"text","text":"99,707","color":"#2e7bd1"},"encoding":{"x":{"value":38.3},"y":{"value":23}}},
 {"data":{"values":[{}]},"mark":{"type":"text","text":"87,792","color":"#ff9800"},"encoding":{"x":{"value":57.3},"y":{"value":23}}},
 {"data":{"values":[{}]},"mark":{"type":"text","text":"98,187","color":"#e05599"},"encoding":{"x":{"value":76},"y":{"value":23}}},
 {"data":{"values":[{}]},"mark":{"type":"text","text":"105,474","color":"#4caf50"},"encoding":{"x":{"value":95},"y":{"value":23}}},
 {"data":{"values":[{}]},"mark":{"type":"text","text":"107,355","color":"#9c5fd0"},"encoding":{"x":{"value":116},"y":{"value":23}}},
 {"data":{"values":[{}]},"mark":{"type":"text","text":"109,590","color":"#c070d0"},"encoding":{"x":{"value":138.3},"y":{"value":23}}},
 {"data":{"values":[{}]},"mark":{"type":"text","text":"109,669","color":"#ffeb3b"},"encoding":{"x":{"value":160},"y":{"value":23}}},
 {"data":{"values":[{}]},"mark":{"type":"text","text":"110,131","color":"#ef5350"},"encoding":{"x":{"value":181.7},"y":{"value":23}}},
 {"data":{"values":[{}]},"mark":{"type":"text","text":"100,935","color":"#e04848"},"encoding":{"x":{"value":201.7},"y":{"value":23}}},
 {"data":{"values":[{}]},"mark":{"type":"text","text":"102,329","color":"#4a6cf0"},"encoding":{"x":{"value":223.3},"y":{"value":23}}},
 {"data":{"values":[{}]},"mark":{"type":"text","text":"83,684","color":"#4a6cf0"},"encoding":{"x":{"value":245},"y":{"value":23}}},
 {"data":{"values":[{}]},"mark":{"type":"text","text":"55,813","color":"#5d606b"},"encoding":{"x":{"value":263.3},"y":{"value":23}}},
 {"data":{"values":[{}]},"mark":{"type":"text","text":"VWAP (Session)","color":"#d1d4dc"},"encoding":{"x":{"value":7},"y":{"value":31}}},
 {"data":{"values":[{}]},"mark":{"type":"text","text":"87,002","color":"#2962ff"},"encoding":{"x":{"value":39.3},"y":{"value":31}}},
 {"data":{"values":[{}]},"mark":{"type":"text","text":"87,002","color":"#4caf50"},"encoding":{"x":{"value":56.7},"y":{"value":31}}},
 {"data":{"values":[{}]},"mark":{"type":"text","text":"87,002","color":"#4caf50"},"encoding":{"x":{"value":74},"y":{"value":31}}},
 {"data":{"values":[{}]},"mark":{"type":"text","text":"MACD (12, 26, close)","color":"#d1d4dc"},"encoding":{"x":{"value":7},"y":{"value":289}}},
 {"data":{"values":[{}]},"mark":{"type":"text","text":"−793","color":"#ffcdd2"},"encoding":{"x":{"value":61},"y":{"value":289}}},
 {"data":{"values":[{}]},"mark":{"type":"text","text":"−5,844","color":"#2962ff"},"encoding":{"x":{"value":75},"y":{"value":289}}},
 {"data":{"values":[{}]},"mark":{"type":"text","text":"−5,050","color":"#ff6d00"},"encoding":{"x":{"value":90},"y":{"value":289}}},
 {"data":{"values":[{}]},"mark":{"type":"text","text":"RSI (7, close)","color":"#d1d4dc"},"encoding":{"x":{"value":7},"y":{"value":314}}},
 {"data":{"values":[{}]},"mark":{"type":"text","text":"29.10","color":"#a67de0"},"encoding":{"x":{"value":41},"y":{"value":314}}},
 {"data":{"values":[{}]},"mark":{"type":"text","text":"25.23","color":"#e0e34a"},"encoding":{"x":{"value":58},"y":{"value":314}}},
 {"data":{"values":[{}]},"mark":{"type":"text","text":"∅ ∅ ∅ ∅","color":"#9598a1"},"encoding":{"x":{"value":75},"y":{"value":314}}}
],
"resolve":{"scale":{"y":"independent"},"axis":{"y":"independent"}}
}
